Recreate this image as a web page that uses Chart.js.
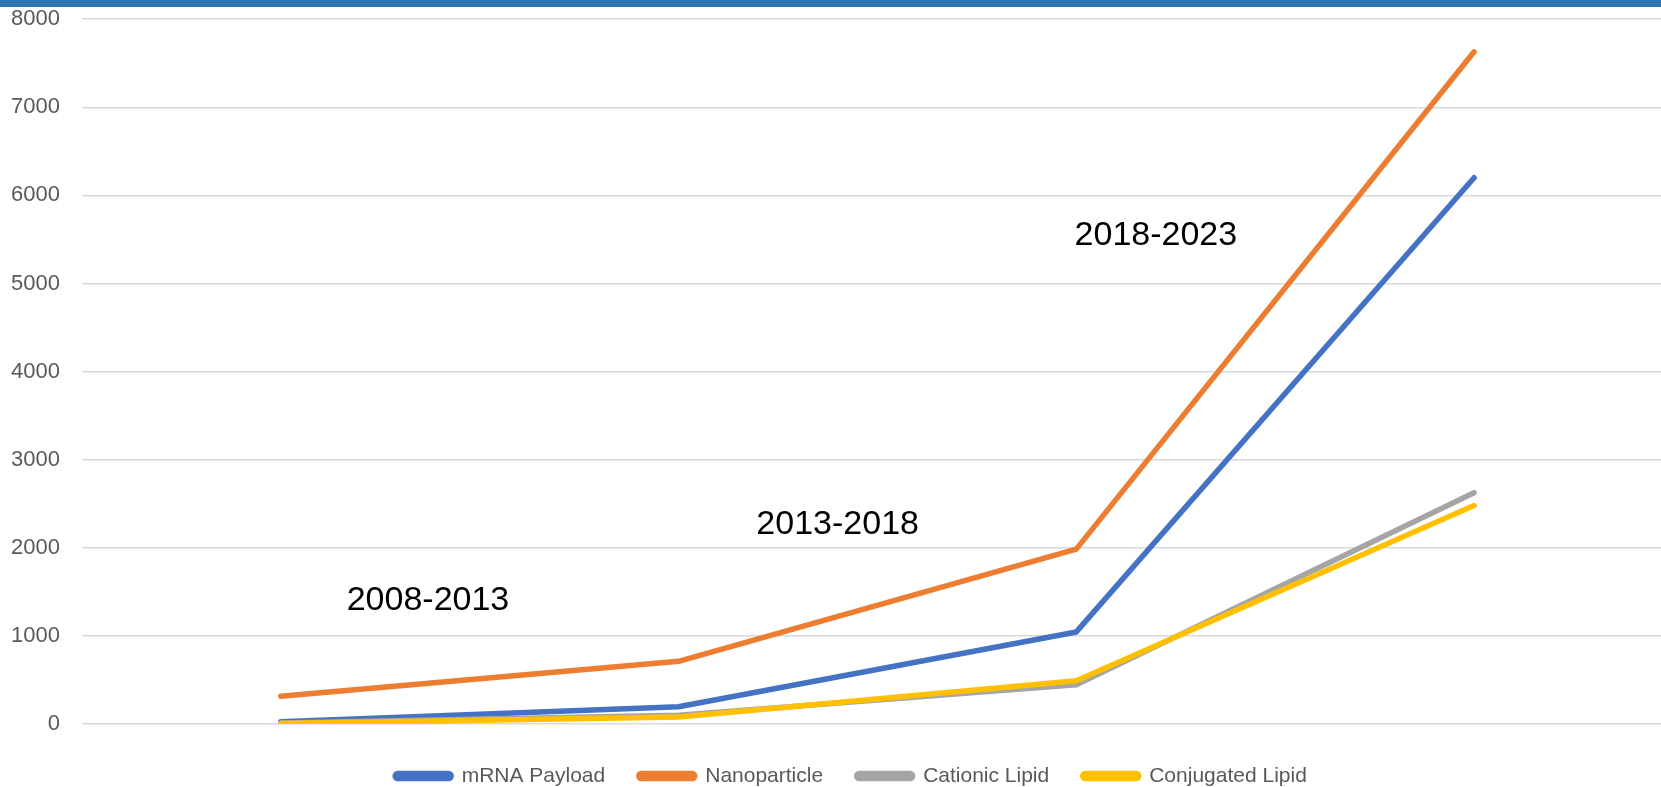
<!DOCTYPE html>
<html>
<head>
<meta charset="utf-8">
<script src="https://cdn.jsdelivr.net/npm/chart.js@4.4.1/dist/chart.umd.min.js"></script>
<style>
  html, body { margin: 0; padding: 0; background: #fff; }
  #wrap { position: relative; width: 1661px; height: 787px; overflow: hidden; }
  #topbar { position: absolute; left: 0; top: 0; width: 1661px; height: 7px; background: #2e75b6; }
</style>
</head>
<body>
<div id="wrap">
  <canvas id="graph" width="1661" height="787"></canvas>
  <div id="topbar"></div>
</div>
<script>
// periods (x categories)
const periods = ['2008', '2013', '2018', '2023'];

// series values
const mrnaPayload    = [25, 195, 1045, 6200];
const nanoparticle   = [315, 712, 1985, 7630];
const cationicLipid  = [10, 100, 445, 2625];
const conjugatedLipid = [5, 80, 492, 2480];

// text boxes placed on the chart
const periodLabels = ['2008-2013', '2013-2018', '2018-2023'];

const yTicks = [0, 1000, 2000, 3000, 4000, 5000, 6000, 7000, 8000];

function toPoints(vals) {
  return vals.map((v, i) => ({ x: i, y: v }));
}

function series(label, vals, color, order) {
  return {
    label: label,
    data: toPoints(vals),
    borderColor: color,
    backgroundColor: color,
    borderWidth: 5.5,
    borderCapStyle: 'round',
    borderJoinStyle: 'round',
    pointRadius: 0,
    tension: 0,
    order: order
  };
}

// draws the period text boxes at spots in data units
const periodText = {
  id: 'periodText',
  afterDatasetsDraw(chart, args, opts) {
    const ctx = chart.ctx;
    const xs = chart.scales.x, ys = chart.scales.y;
    ctx.save();
    ctx.font = '34px "Liberation Sans", Arial, sans-serif';
    ctx.fillStyle = '#000';
    ctx.textAlign = 'center';
    ctx.textBaseline = 'alphabetic';
    opts.spots.forEach((s, i) => {
      ctx.fillText(periodLabels[i], xs.getPixelForValue(s[0]), ys.getPixelForValue(s[1]));
    });
    ctx.restore();
  }
};

new Chart(document.getElementById('graph'), {
  type: 'line',
  plugins: [periodText],
  data: {
    labels: periods,
    datasets: [
      series('mRNA Payload', mrnaPayload, '#4472c4', 4),
      series('Nanoparticle', nanoparticle, '#ed7d31', 3),
      series('Cationic Lipid', cationicLipid, '#a5a5a5', 2),
      series('Conjugated Lipid', conjugatedLipid, '#ffc000', 1)
    ]
  },
  options: {
    responsive: false,
    animation: false,
    devicePixelRatio: 1,
    // negative right padding only widens the legend box so it sits where the original has it
    layout: { padding: { left: 5, top: 0, right: -36, bottom: -9.5 } },
    scales: {
      x: {
        type: 'linear',
        min: -0.5,
        max: 3.47,
        ticks: { display: false },
        grid: { display: false },
        border: { display: false }
      },
      y: {
        min: 0,
        max: 8000,
        afterBuildTicks: (axis) => { axis.ticks = yTicks.map(v => ({ value: v })); },
        ticks: {
          padding: 6,
          color: '#595959',
          font: { family: '"Liberation Sans", Arial, sans-serif', size: 22 },
          callback: (v) => String(v)
        },
        grid: { color: '#d9d9d9', lineWidth: 1.5, drawTicks: true, tickLength: 16, tickColor: 'rgba(0,0,0,0)' },
        border: { display: false }
      }
    },
    plugins: {
      periodText: { spots: [[0.37, 1297], [1.40, 2157], [2.20, 5442]] },
      tooltip: { enabled: false },
      legend: {
        position: 'bottom',
        labels: {
          sort: (a, b) => a.datasetIndex - b.datasetIndex,
          boxWidth: 56,
          boxHeight: 5,
          useBorderRadius: true,
          borderRadius: 2.5,
          padding: 33.5,
          color: '#595959',
          font: { family: '"Liberation Sans", Arial, sans-serif', size: 21 }
        }
      }
    }
  }
});
</script>
</body>
</html>
